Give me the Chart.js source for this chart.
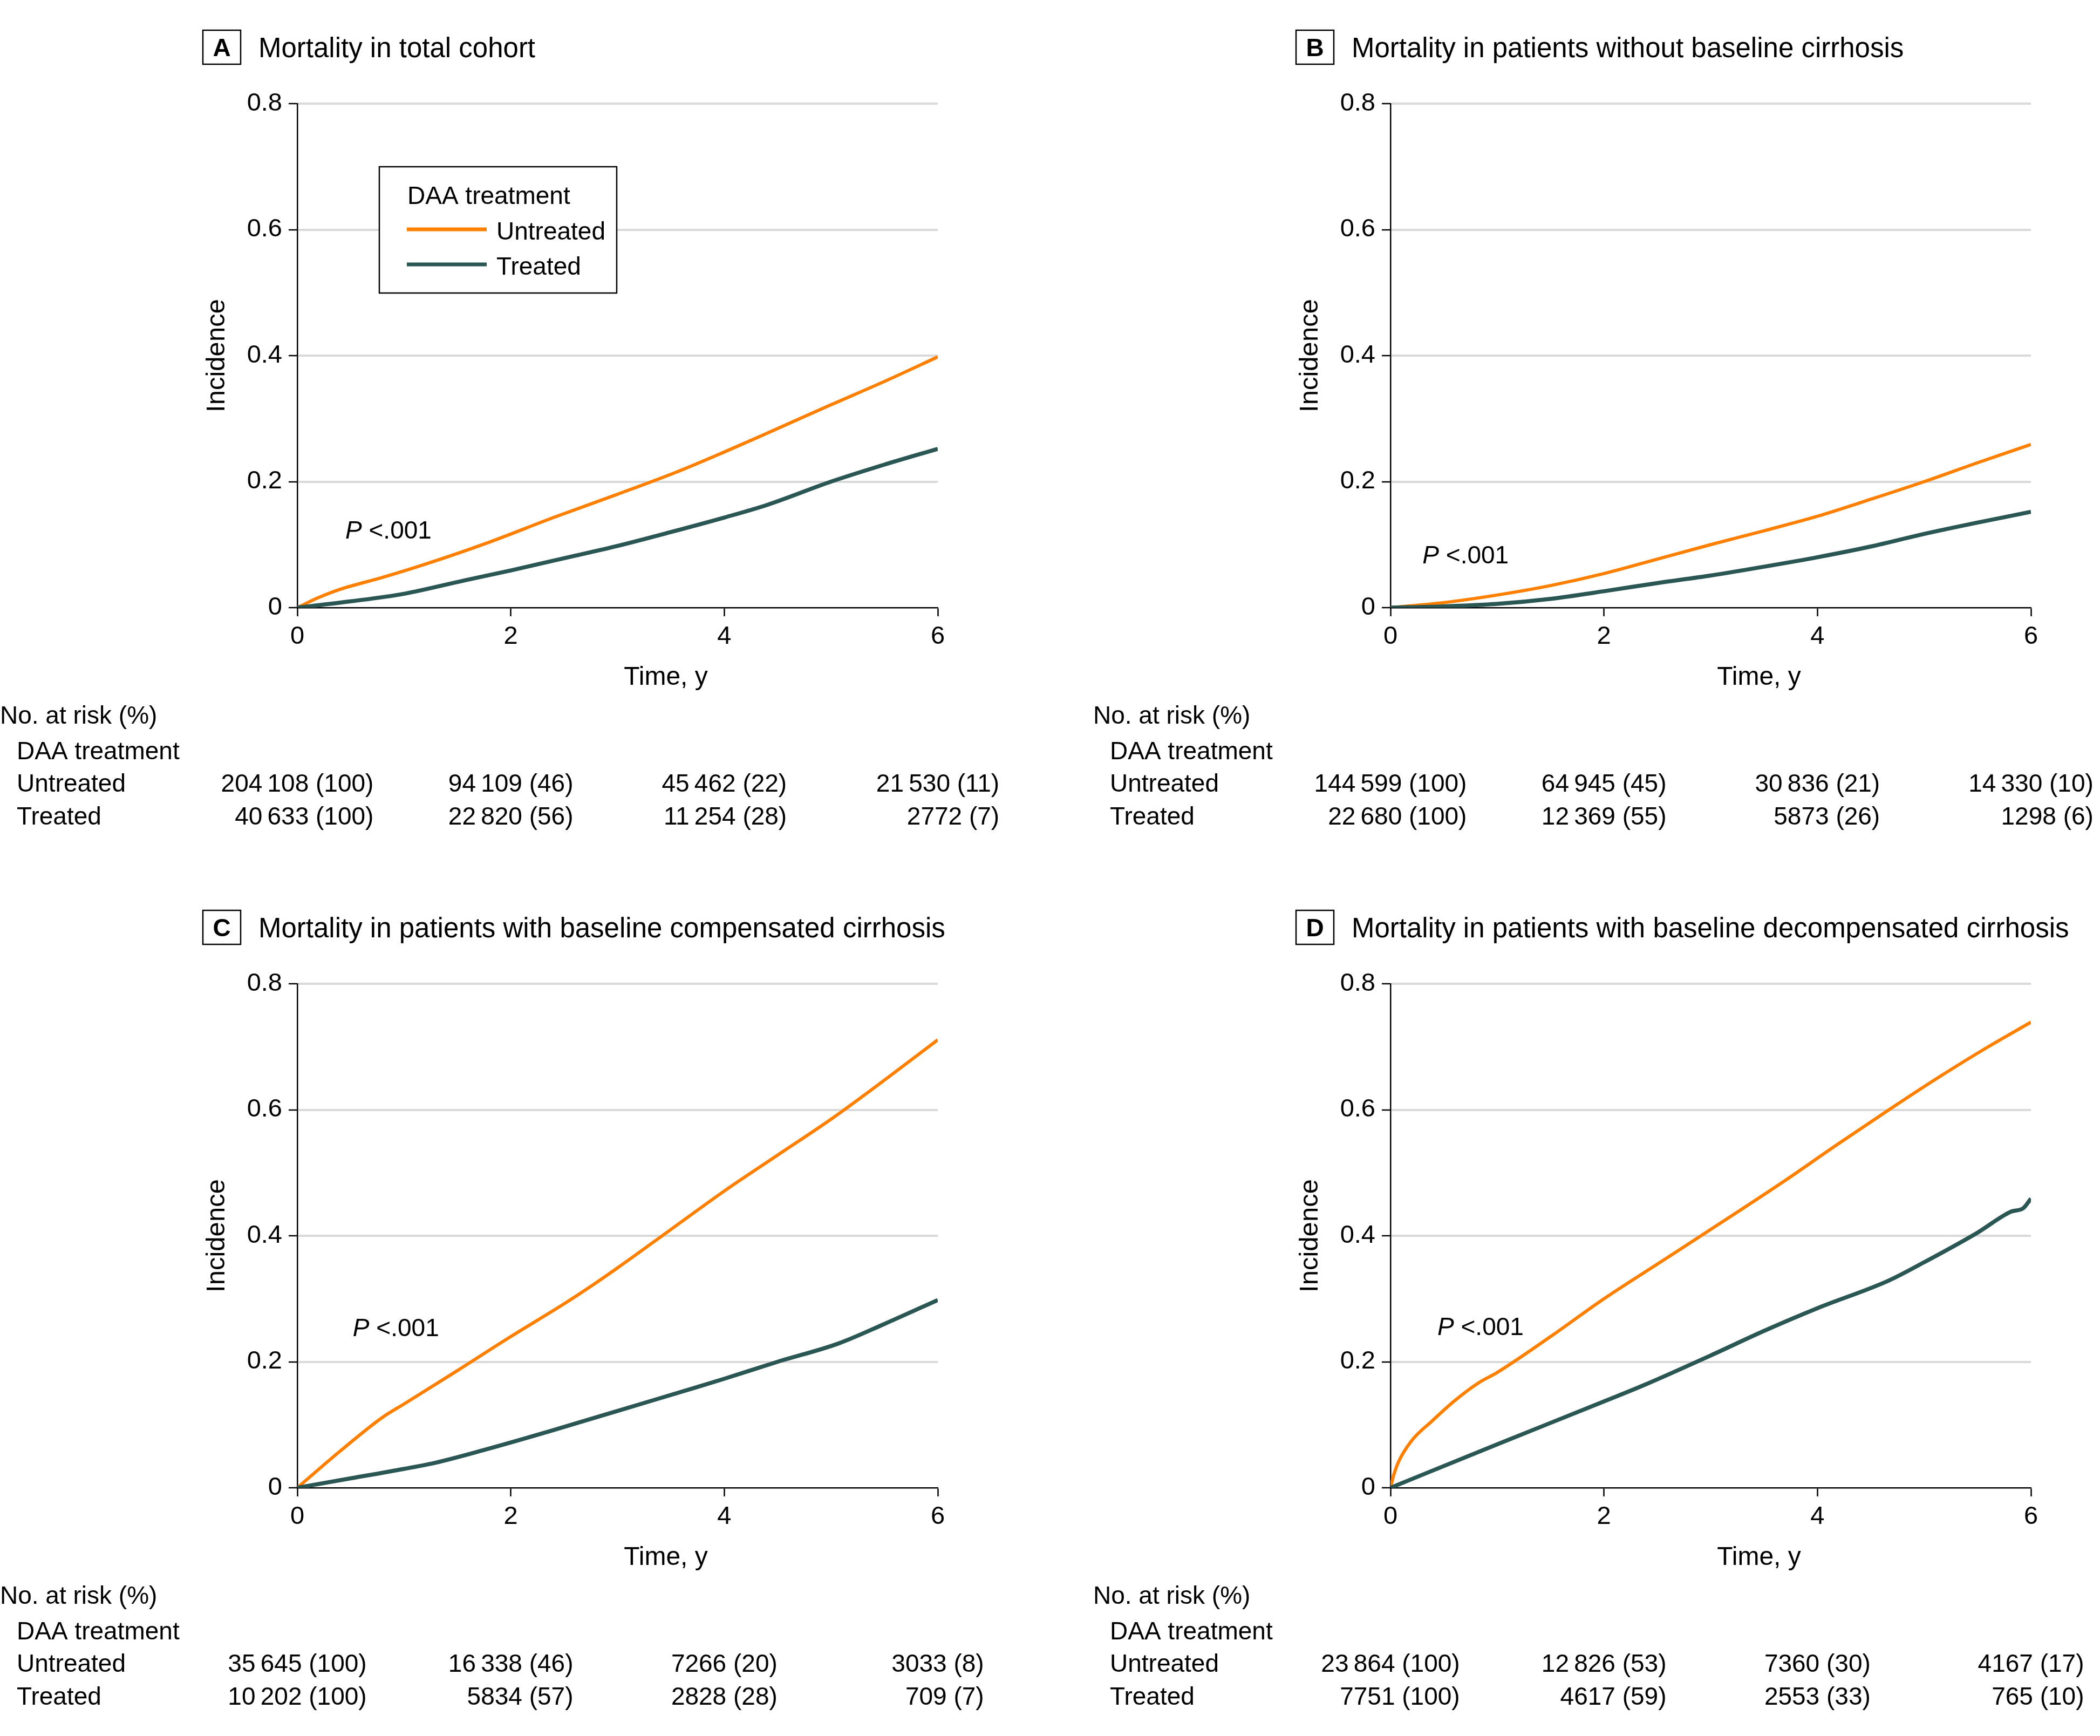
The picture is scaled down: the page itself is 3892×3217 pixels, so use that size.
<!DOCTYPE html>
<html>
<head>
<meta charset="utf-8">
<script src="https://cdn.jsdelivr.net/npm/chart.js@4.4.1/dist/chart.umd.min.js"></script>
<style>
  body { margin: 0; background: #fff; width: 3892px; height: 3217px; position: relative; overflow: hidden; }
  canvas { position: absolute; }
</style>
</head>
<body>
<canvas id="chartA" width="2026" height="1631" style="left:0;top:0"></canvas>
<canvas id="chartB" width="1866" height="1631" style="left:2026px;top:0"></canvas>
<canvas id="chartC" width="2026" height="1586" style="left:0;top:1631px"></canvas>
<canvas id="chartD" width="1866" height="1586" style="left:2026px;top:1631px"></canvas>
<script>
const timeTicks = [0, 2, 4, 6];
const incidenceTicks = [0, 0.2, 0.4, 0.6, 0.8];
const groups = ['Untreated', 'Treated'];

// A: total cohort  [time (y), incidence]
const totalUntreated = [[0,0],[0.2,0.016],[0.4,0.029],[0.8,0.048],[1.2,0.069],[1.8,0.104],[2.4,0.143],[3,0.18],[3.55,0.215],[4,0.247],[4.43,0.279],[5,0.322],[5.5,0.359],[6,0.398]];
const totalTreated = [[0,0],[0.5,0.01],[1,0.022],[1.56,0.043],[2,0.059],[2.54,0.08],[3,0.098],[3.5,0.12],[4,0.143],[4.4,0.163],[5,0.2],[5.5,0.227],[6,0.252]];
// B: without baseline cirrhosis
const noCirrUntreated = [[0,0],[0.5,0.008],[1,0.02],[1.5,0.035],[2,0.054],[2.5,0.077],[3,0.1],[3.5,0.122],[4,0.145],[4.5,0.172],[5,0.2],[5.5,0.23],[6,0.259]];
const noCirrTreated = [[0,0],[0.5,0.002],[1,0.006],[1.5,0.014],[2,0.026],[2.5,0.039],[3,0.051],[3.5,0.065],[4,0.08],[4.5,0.097],[5,0.117],[5.5,0.135],[6,0.152]];
// C: compensated cirrhosis
const compUntreated = [[0,0],[0.4,0.058],[0.8,0.112],[1,0.133],[1.5,0.186],[2,0.24],[2.5,0.292],[2.77,0.322],[3,0.349],[3.5,0.41],[4,0.471],[4.5,0.528],[5,0.585],[5.5,0.647],[6,0.711]];
const compTreated = [[0,0],[0.5,0.015],[1,0.03],[1.3,0.04],[1.75,0.06],[2.37,0.09],[3,0.122],[3.75,0.16],[4,0.173],[4.5,0.2],[5.07,0.229],[5.5,0.26],[6,0.298]];
// D: decompensated cirrhosis
const decompUntreated = [[0,0],[0.03,0.02],[0.075,0.041],[0.2,0.075],[0.39,0.106],[0.6,0.138],[0.83,0.167],[1,0.183],[1.5,0.24],[2,0.3],[2.5,0.355],[3,0.41],[3.7,0.488],[4.17,0.543],[4.67,0.6],[5.14,0.652],[5.6,0.7],[6,0.739]];
const decompTreated = [[0,0],[1,0.069],[2,0.137],[2.39,0.164],[3,0.21],[3.5,0.249],[4,0.285],[4.67,0.329],[5,0.358],[5.5,0.405],[5.81,0.438],[5.93,0.444],[6,0.459]];

// No. at risk (count, %)
const riskTotalUntreated = [204108, 94109, 45462, 21530];
const pctTotalUntreated = [100, 46, 22, 11];
const riskTotalTreated = [40633, 22820, 11254, 2772];
const pctTotalTreated = [100, 56, 28, 7];
const riskNoCirrUntreated = [144599, 64945, 30836, 14330];
const pctNoCirrUntreated = [100, 45, 21, 10];
const riskNoCirrTreated = [22680, 12369, 5873, 1298];
const pctNoCirrTreated = [100, 55, 26, 6];
const riskCompUntreated = [35645, 16338, 7266, 3033];
const pctCompUntreated = [100, 46, 20, 8];
const riskCompTreated = [10202, 5834, 2828, 709];
const pctCompTreated = [100, 57, 28, 7];
const riskDecompUntreated = [23864, 12826, 7360, 4167];
const pctDecompUntreated = [100, 53, 30, 17];
const riskDecompTreated = [7751, 4617, 2553, 765];
const pctDecompTreated = [100, 59, 33, 10];

const ORANGE = '#FF8000';
const TEAL = '#2A5654';
const FONT = '"Liberation Sans", Arial, sans-serif';

Chart.defaults.font.family = FONT;
Chart.defaults.color = '#000';

function fmtN(n) {
    const s = String(n);
    return n >= 10000 ? s.slice(0, -3) + '\u2009' + s.slice(-3) : s;
}

const panels = [
    { id: 'chartA', letter: 'A', title: 'Mortality in total cohort', untreated: totalUntreated, treated: totalTreated,
      risk: [[riskTotalUntreated, pctTotalUntreated], [riskTotalTreated, pctTotalTreated]], pLabel: { x: 0.45, y: 0.11 }, legend: true, padRight: 288, padBottom: 405 },
    { id: 'chartB', letter: 'B', title: 'Mortality in patients without baseline cirrhosis', untreated: noCirrUntreated, treated: noCirrTreated,
      risk: [[riskNoCirrUntreated, pctNoCirrUntreated], [riskNoCirrTreated, pctNoCirrTreated]], pLabel: { x: 0.3, y: 0.07 }, legend: false, padRight: 128, padBottom: 405 },
    { id: 'chartC', letter: 'C', title: 'Mortality in patients with baseline compensated cirrhosis', untreated: compUntreated, treated: compTreated,
      risk: [[riskCompUntreated, pctCompUntreated], [riskCompTreated, pctCompTreated]], pLabel: { x: 0.52, y: 0.241 }, legend: false, padRight: 288, padBottom: 360 },
    { id: 'chartD', letter: 'D', title: 'Mortality in patients with baseline decompensated cirrhosis', untreated: decompUntreated, treated: decompTreated,
      risk: [[riskDecompUntreated, pctDecompUntreated], [riskDecompTreated, pctDecompTreated]], pLabel: { x: 0.44, y: 0.242 }, legend: false, padRight: 128, padBottom: 360 }
];

const decorPlugin = {
    id: 'decor',
    afterDatasetsDraw(chart, args, opts) {
        const ctx = chart.ctx;
        const area = chart.chartArea;
        const xs = chart.scales.x, ys = chart.scales.y;
        const p = opts.panel;
        ctx.save();
        ctx.fillStyle = '#000';
        ctx.strokeStyle = '#000';

        // panel letter box + title
        ctx.lineWidth = 2.5;
        ctx.strokeRect(area.left - 175, 56, 70, 63);
        ctx.font = 'bold 46px ' + FONT;
        ctx.textAlign = 'center';
        ctx.textBaseline = 'alphabetic';
        ctx.fillText(p.letter, area.left - 140, 104);
        ctx.textAlign = 'left';
        ctx.font = '51px ' + FONT;
        ctx.fillText(p.title, area.left - 72, 106);

        // axis titles
        ctx.font = '49px ' + FONT;
        ctx.save();
        ctx.translate(area.left - 149, (area.top + area.bottom) / 2);
        ctx.rotate(-Math.PI / 2);
        ctx.textAlign = 'center';
        ctx.textBaseline = 'middle';
        ctx.fillText('Incidence', 0, 0);
        ctx.restore();
        ctx.font = '48px ' + FONT;
        ctx.textAlign = 'center';
        ctx.fillText('Time, y', area.left + 683, area.bottom + 143);

        // P value
        ctx.textAlign = 'left';
        ctx.font = 'italic 46px ' + FONT;
        const px = xs.getPixelForValue(p.pLabel.x), py = ys.getPixelForValue(p.pLabel.y);
        ctx.fillText('P', px, py);
        const pw = ctx.measureText('P ').width;
        ctx.font = '46px ' + FONT;
        ctx.fillText('<.001', px + pw, py);

        // legend
        if (p.legend) {
            const lx = area.left + 152, ly = area.top + 117;
            ctx.fillStyle = '#fff';
            ctx.fillRect(lx, ly, 440, 234);
            ctx.lineWidth = 2.5;
            ctx.strokeRect(lx, ly, 440, 234);
            ctx.fillStyle = '#000';
            ctx.font = '46px ' + FONT;
            ctx.fillText('DAA treatment', lx + 52, ly + 69);
            const colors = [ORANGE, TEAL];
            groups.forEach((g, i) => {
                const yy = ly + 116 + i * 65;
                ctx.strokeStyle = colors[i];
                ctx.lineWidth = 7;
                ctx.beginPath();
                ctx.moveTo(lx + 51, yy);
                ctx.lineTo(lx + 199, yy);
                ctx.stroke();
                ctx.fillText(g, lx + 217, yy + 19);
            });
        }

        // number at risk table
        ctx.fillStyle = '#000';
        ctx.font = '46px ' + FONT;
        ctx.textAlign = 'left';
        ctx.fillText('No. at risk (%)', area.left - 551, area.bottom + 215);
        ctx.fillText('DAA treatment', area.left - 520, area.bottom + 281);
        const rowY = [area.bottom + 341, area.bottom + 402];
        groups.forEach((g, i) => ctx.fillText(g, area.left - 520, rowY[i]));
        timeTicks.forEach((t, c) => {
            const labels = p.risk.map(([n, pct]) => fmtN(n[c]) + ' (' + pct[c] + ')');
            const maxW = Math.max(...labels.map(l => ctx.measureText(l).width));
            const right = xs.getPixelForValue(t) + maxW / 2;
            ctx.textAlign = 'right';
            labels.forEach((l, i) => ctx.fillText(l, right, rowY[i]));
        });
        ctx.restore();
    }
};

panels.forEach(p => {
    const toPts = arr => arr.map(([x, y]) => ({ x, y }));
    new Chart(document.getElementById(p.id), {
        type: 'line',
        data: {
            datasets: [
                { label: groups[0], data: toPts(p.untreated), borderColor: ORANGE, borderWidth: 6, order: 1 },
                { label: groups[1], data: toPts(p.treated), borderColor: TEAL, borderWidth: 7.5, order: 0 }
            ]
        },
        options: {
            responsive: false,
            animation: false,
            events: [],
            layout: { padding: { left: 0, top: 192, right: p.padRight, bottom: p.padBottom } },
            elements: {
                point: { radius: 0 },
                line: { cubicInterpolationMode: 'monotone', fill: false, borderCapStyle: 'butt', borderJoinStyle: 'round' }
            },
            plugins: { legend: { display: false }, tooltip: { enabled: false }, decor: { panel: p } },
            scales: {
                x: {
                    type: 'linear', min: 0, max: 6,
                    afterBuildTicks: s => { s.ticks = timeTicks.map(v => ({ value: v })); },
                    afterFit: s => { s.height = 100; },
                    grid: { drawOnChartArea: false, drawTicks: true, tickLength: 16, tickColor: '#000', tickWidth: 2.5 },
                    border: { display: true, color: '#000', width: 2.5 },
                    ticks: { font: { size: 47 }, color: '#000', padding: 10, maxRotation: 0, callback: v => String(v) }
                },
                y: {
                    min: 0, max: 0.8,
                    afterBuildTicks: s => { s.ticks = incidenceTicks.map(v => ({ value: v })); },
                    afterFit: s => { s.width = 551; },
                    grid: {
                        color: c => (c.tick && c.tick.value === 0) ? 'rgba(0,0,0,0)' : '#D9D9D9',
                        lineWidth: 4, drawTicks: true, tickLength: 16, tickColor: '#000', tickWidth: 2.5
                    },
                    border: { display: true, color: '#000', width: 2.5 },
                    ticks: { font: { size: 47 }, color: '#000', padding: 12, callback: v => v === 0 ? '0' : v.toFixed(1) }
                }
            }
        },
        plugins: [decorPlugin]
    });
});
</script>
</body>
</html>
